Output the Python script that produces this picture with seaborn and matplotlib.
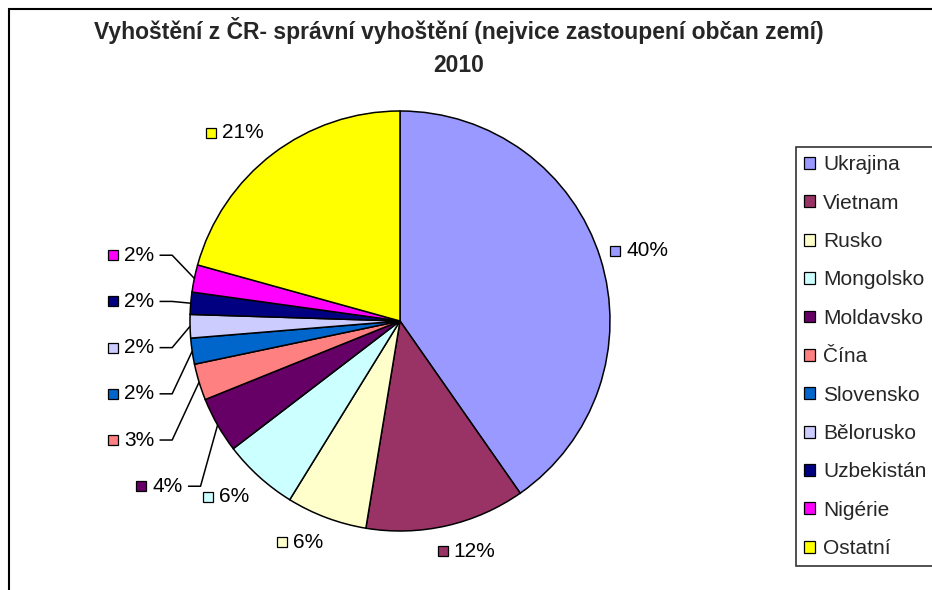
import matplotlib
matplotlib.use("Agg")
import matplotlib.pyplot as plt
import numpy as np
import seaborn as sns
from matplotlib.patches import Patch, Rectangle
from matplotlib.offsetbox import AnnotationBbox, DrawingArea, HPacker, TextArea

# data (share of expulsions, %)
zeme = ['Ukrajina', 'Vietnam', 'Rusko', 'Mongolsko', 'Moldavsko', 'Čína',
        'Slovensko', 'Bělorusko', 'Uzbekistán', 'Nigérie', 'Ostatní']
podil = [40.3, 12.3, 6.2, 5.8, 4.3, 2.8, 2.0, 1.8, 1.7, 2.1, 20.7]
barvy = ['#9999FF', '#993366', '#FFFFCC', '#CCFFFF', '#660066', '#FF8080',
         '#0066CC', '#CCCCFF', '#000080', '#FF00FF', '#FFFF00']
titulek = 'Vyhoštění z ČR- správní vyhoštění (nejvice zastoupení občan zemí)\n2010'

sns.set_theme(style='white')
plt.rcParams['font.family'] = ['Liberation Sans', 'DejaVu Sans']
paleta = sns.color_palette(barvy)

fig = plt.figure(figsize=(9.32, 5.9), dpi=100)
ax = fig.add_axes([190 / 932, 59 / 590, 420 / 932, 420 / 590])
wedges, _ = ax.pie(podil, colors=paleta, startangle=90, counterclock=False,
                   wedgeprops=dict(edgecolor='black', linewidth=1.1))
ax.set_xlim(-1, 1)
ax.set_ylim(-1, 1)

celkem = sum(podil)
FS = 15


def stitek(i, xy, align):
    da = DrawingArea(8, 8, 0, 0)
    da.add_artist(Rectangle((0.4, 0.4), 7.2, 7.2, facecolor=paleta[i],
                            edgecolor='black', linewidth=0.9))
    ta = TextArea(f'{round(podil[i] / celkem * 100):.0f}%',
                  textprops=dict(fontsize=FS, color='black'))
    box = HPacker(children=[da, ta], align='center', pad=0, sep=4)
    ab = AnnotationBbox(box, xy, xycoords='data', box_alignment=align,
                        frameon=False, pad=0, annotation_clip=False)
    ax.add_artist(ab)


# mid angles of wedges
stredy = [np.deg2rad((w.theta1 + w.theta2) / 2) for w in wedges]

# small slices on the left side get leader lines, spread vertically
male = [i for i in range(len(podil)) if podil[i] < 5 and np.cos(stredy[i]) < 0]
ostatni = [i for i in range(len(podil)) if i not in male]

for i in ostatni:
    a = stredy[i]
    c, s = np.cos(a), np.sin(a)
    r = 1.03 + 0.05 * abs(s)
    cc, ss = np.clip(2.5 * c, -1, 1), np.clip(1.6 * s, -1, 1)
    stitek(i, (r * c, r * s), (0.5 - 0.5 * cc, 0.5 - 0.5 * ss))

# spread labels from the lowest one that still sits above the centre line
gap = 0.22
prirozene = {i: 1.1 * np.sin(stredy[i]) for i in male}
male_sorted = sorted(male, key=lambda i: -prirozene[i])
kotva = min([i for i in male if prirozene[i] >= 0], key=lambda i: prirozene[i])
k = male_sorted.index(kotva)
ypos = {}
for j, i in enumerate(male_sorted):
    ypos[i] = prirozene[kotva] - (j - k) * gap

for i in male:
    y = ypos[i]
    xr = -min(1.17, np.sqrt(max(1.3 ** 2 - y ** 2, 0)))
    stitek(i, (xr, y), (1, 0.5))
    a = stredy[i]
    ex, ey = np.cos(a), np.sin(a)
    ax.plot([xr + 0.025, xr + 0.085, ex], [y, y, ey], color='black',
            linewidth=1.1, clip_on=False, solid_capstyle='butt')

fig.text(459 / 932, 1 - 47 / 590, titulek, ha='center', va='center',
         fontsize=16.5, fontweight='bold', linespacing=1.5)

handles = [Patch(facecolor=paleta[i], edgecolor='black', linewidth=0.9)
           for i in range(len(zeme))]
leg = fig.legend(handles, zeme, loc='upper left',
                 bbox_to_anchor=(796 / 932, 1 - 147 / 590),
                 frameon=True, fancybox=False, fontsize=FS, borderaxespad=0,
                 borderpad=0.4, handlelength=0.5, handleheight=0.5,
                 handletextpad=0.4, labelspacing=0.93)
leg.get_frame().set_edgecolor('black')
leg.get_frame().set_linewidth(1.2)

fig.patches.append(Rectangle((8.5 / 932, -0.1), 1.2, 1.1 - 8.5 / 590,
                             transform=fig.transFigure, fill=False,
                             edgecolor='black', linewidth=1.5))

fig.savefig('out.png', dpi=100)
